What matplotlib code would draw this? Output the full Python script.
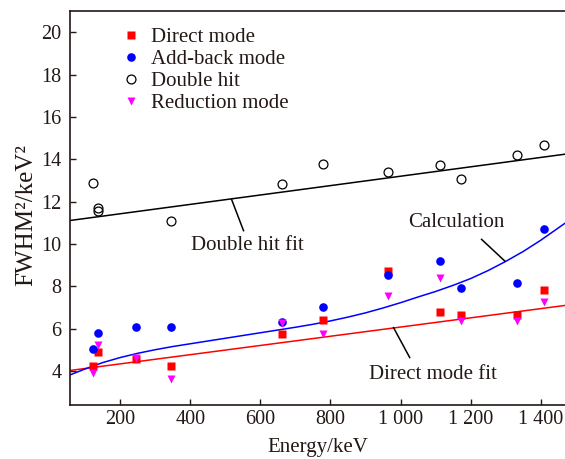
import matplotlib
matplotlib.use("Agg")
import matplotlib.pyplot as plt

plt.rcParams['font.family'] = ['Liberation Serif', 'DejaVu Serif']

INK = '#231815'

# --- data ---
energy = [122, 136, 245, 344, 662, 779, 964, 1112, 1173, 1332, 1408]
direct = [4.25, 4.92, 4.58, 4.25, 5.74, 6.40, 8.73, 6.81, 6.64, 6.64, 7.85]
addback = [5.03, 5.79, 6.07, 6.07, 6.32, 7.01, 8.52, 9.21, 7.91, 8.18, 10.71]
reduction = [3.93, 5.24, 4.60, 3.62, 6.27, 5.74, 7.56, 8.38, 6.35, 6.37, 7.25]
double_energy = [122, 136, 136, 344, 662, 779, 964, 1112, 1173, 1332, 1408]
double_hit = [12.89, 11.70, 11.58, 11.08, 12.83, 13.79, 13.41, 13.73, 13.07, 14.20, 14.67]

fit_energy = [57, 1469]
direct_fit = [4.03, 7.10]
double_fit = [11.11, 14.24]

calc_energy = [57, 100, 150, 200, 250, 300, 350, 400, 450, 500, 550, 600, 650, 700, 750,
               800, 850, 900, 950, 1000, 1050, 1100, 1150, 1200, 1250, 1300, 1350, 1400, 1469]
calc_value = [3.82, 4.10, 4.40, 4.64, 4.84, 5.01, 5.16, 5.29, 5.42, 5.55, 5.68, 5.81, 5.94, 6.07, 6.21,
              6.37, 6.55, 6.75, 6.98, 7.23, 7.50, 7.76, 8.05, 8.37, 8.75, 9.18, 9.65, 10.18, 10.98]

xticks = [200, 400, 600, 800, 1000, 1200, 1400]
xticklabels = ['200', '400', '600', '800', '1 000', '1 200', '1 400']
yticks = [4, 6, 8, 10, 12, 14, 16, 18, 20]

# annotation texts: (label, text position, leader start, leader end)
notes = [
    ('Double hit fit', (563, 9.91), (518, 12.10), (552, 10.63)),
    ('Calculation', (1159, 11.0), (1231, 10.22), (1297, 9.20)),
    ('Direct mode fit', (1091, 3.84), (980, 6.05), (1026, 4.64)),
]

fig = plt.figure(figsize=(5.65, 4.59), dpi=100)
ax = fig.add_axes([70/565, 54/459, 495/565, 394/459])

ax.plot(fit_energy, double_fit, color='black', lw=1.1, zorder=2)
ax.plot(fit_energy, direct_fit, color='#ff0000', lw=1.1, zorder=2)
ax.plot(calc_energy, calc_value, color='#0000ff', lw=1.1, zorder=2)

ms = 5.6
ax.plot(energy, direct, 's', color='#ff0000', ms=ms, mec='none', label='Direct mode', zorder=3)
ax.plot(energy, addback, 'o', color='#0000ff', ms=ms + 0.6, mec='none', label='Add-back mode', zorder=3)
ax.plot(double_energy, double_hit, 'o', mfc='none', mec='black', mew=0.9, ms=ms + 0.8, label='Double hit', zorder=3)
ax.plot(energy, reduction, 'v', color='#ff00ff', ms=ms + 0.4, mec='none', label='Reduction mode', zorder=3)

ax.set_xlim(57, 1469)
ax.set_ylim(2.4, 21.0)
ax.set_xticks(xticks)
ax.set_xticklabels(xticklabels)
ax.set_yticks(yticks)

for s in ['left', 'bottom', 'top']:
    ax.spines[s].set_color(INK)
    ax.spines[s].set_linewidth(1.2)
ax.spines['right'].set_visible(False)

ax.tick_params(direction='in', length=4, width=1, colors=INK, labelsize=14.5)
ax.tick_params(axis='x', pad=3.5)
ax.tick_params(axis='y', pad=6)

ax.set_xlabel('Energy/keV', fontsize=15, color=INK)
ax.set_ylabel('FWHM²/keV²', fontsize=18, color=INK)
ax.xaxis.set_label_coords(0.5, -0.084)
ax.yaxis.set_label_coords(-0.067, 0.482)

leg = ax.legend(loc='upper left', bbox_to_anchor=(0.085, 0.979), frameon=False,
                fontsize=15, handlelength=1.0, handletextpad=0.45,
                labelspacing=0.12, borderaxespad=0.0)
for t in leg.get_texts():
    t.set_color(INK)

for label, txy, p0, p1 in notes:
    ax.text(txy[0], txy[1], label, ha='center', va='center', fontsize=15, color=INK)
    ax.plot([p0[0], p1[0]], [p0[1], p1[1]], color='black', lw=1.1, zorder=2)

fig.savefig('out.png', dpi=100)
